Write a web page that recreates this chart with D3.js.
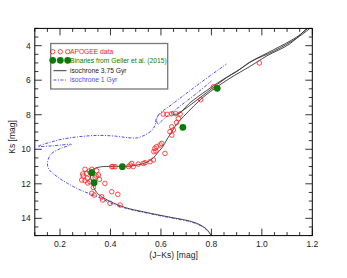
<!DOCTYPE html>
<html>
<head>
<meta charset="utf-8">
<script src="https://cdn.jsdelivr.net/npm/d3@7"></script>
<style>
body { margin: 0; background: #fff; }
text { font-family: "Liberation Sans", Arial, sans-serif; }
</style>
</head>
<body>
<div id="chart"></div>
<script>
// APOGEE stars (J-Ks, Ks)
var apogeeJK = [0.99, 0.808, 0.757, 0.609, 0.624, 0.643, 0.658, 0.676, 0.669, 0.662,
	0.643, 0.649, 0.636, 0.643, 0.603, 0.597, 0.583, 0.576, 0.58, 0.572, 0.616,
	0.57, 0.557, 0.537, 0.53, 0.51, 0.484, 0.478, 0.49, 0.472, 0.405, 0.418, 0.41,
	0.299, 0.306, 0.292, 0.286, 0.299, 0.308, 0.326, 0.345, 0.343, 0.352, 0.356,
	0.319, 0.332, 0.378, 0.326, 0.335, 0.365, 0.369, 0.405, 0.429, 0.398, 0.438,
	0.29, 0.316, 0.339, 0.31];
var apogeeKs = [5.0, 6.38, 7.13, 7.96, 7.98, 7.94, 7.94, 7.96, 8.23, 8.45,
	8.7, 8.88, 8.98, 9.18, 9.66, 9.75, 9.85, 9.95, 10.1, 10.14, 10.24,
	10.62, 10.72, 10.78, 10.82, 10.86, 10.82, 10.91, 11.0, 11.0, 11.01, 11.01, 11.0,
	11.16, 11.39, 11.55, 11.78, 11.82, 11.68, 11.16, 11.24, 11.55, 11.49, 11.74,
	11.88, 12.21, 11.98, 12.55, 12.65, 12.75, 12.94, 12.46, 12.61, 13.13, 13.23,
	11.43, 11.26, 11.66, 11.95];

// binaries from Geller et al. (2015)
var binJK = [0.326, 0.335, 0.447, 0.687, 0.823];
var binKs = [11.36, 11.94, 11.01, 8.73, 6.47];

// isochrone 3.75 Gyr
var iso375Rgb = [[0.80, 15.0], [0.78, 14.62], [0.755, 14.38], [0.72, 14.18],
	[0.65, 13.97], [0.596, 13.82], [0.53, 13.62], [0.464, 13.4],
	[0.43, 13.22], [0.398, 13.02], [0.365, 12.75], [0.345, 12.5], [0.333, 12.2],
	[0.325, 11.85], [0.32, 11.5], [0.323, 11.28], [0.335, 11.12], [0.36, 11.02],
	[0.41, 10.99], [0.47, 10.98], [0.51, 10.9], [0.545, 10.75], [0.57, 10.5],
	[0.587, 10.2], [0.605, 9.9], [0.625, 9.4], [0.643, 9.0], [0.662, 8.55],
	[0.69, 8.1], [0.73, 7.5], [0.77, 6.95], [0.821, 6.4], [0.874, 5.88],
	[0.953, 5.2], [1.019, 4.6], [1.11, 3.9], [1.178, 3.0]];
var iso375Agb1 = [[0.64, 7.95], [0.668, 7.95], [0.716, 7.3], [0.781, 6.6], [0.847, 5.95],
	[0.9, 5.5], [0.953, 4.95], [1.045, 4.25], [1.138, 3.5], [1.19, 2.9]];
var iso375Agb2 = [[0.668, 7.95], [0.72, 7.4], [0.79, 6.62], [0.86, 5.85], [0.92, 5.3],
	[0.96, 4.9], [1.05, 4.3], [1.14, 3.55], [1.195, 2.95]];

// isochrone 1 Gyr
var iso1Rgb = [[0.80, 15.02], [0.78, 14.65], [0.755, 14.41], [0.72, 14.21],
	[0.65, 14.0], [0.596, 13.85], [0.53, 13.65], [0.464, 13.43],
	[0.4, 13.12], [0.374, 12.92], [0.335, 12.67], [0.282, 12.37], [0.229, 11.97],
	[0.189, 11.59], [0.158, 11.2], [0.15, 10.85], [0.163, 10.3], [0.2, 9.97],
	[0.245, 9.72], [0.17, 9.8], [0.113, 9.83], [0.16, 9.6], [0.2, 9.44],
	[0.27, 9.28], [0.35, 9.2], [0.42, 9.24], [0.47, 9.33], [0.505, 9.34],
	[0.54, 9.15], [0.565, 8.88], [0.577, 8.6], [0.58, 8.3], [0.592, 7.98],
	[0.65, 7.33], [0.75, 6.22], [0.86, 5.06]];
var iso1Agb = [[0.592, 7.98], [0.583, 8.25], [0.588, 8.55], [0.6, 8.4], [0.63, 8.02],
	[0.68, 7.45], [0.74, 6.78], [0.8, 6.05]];

var xTicks = [0.2, 0.4, 0.6, 0.8, 1.0, 1.2];
var yTicks = [4, 6, 8, 10, 12, 14];

var w = 347, h = 278;
var x0 = 34.8, x1 = 312.3, y0 = 28.4, y1 = 235.6;

var xScale = d3.scaleLinear().domain([0.1, 1.2]).range([x0, x1]);
var yScale = d3.scaleLinear().domain([3, 15]).range([y0, y1]);

var svg = d3.select('#chart')
	.append('svg')
	.attr('width', w)
	.attr('height', h);

svg.append('defs').append('clipPath').attr('id', 'clip')
	.append('rect')
	.attr('x', x0).attr('y', y0)
	.attr('width', x1 - x0).attr('height', y1 - y0);

var plot = svg.append('g').attr('clip-path', 'url(#clip)');

var line = d3.line()
	.x(function (d) {return xScale(d[0]);})
	.y(function (d) {return yScale(d[1]);})
	.curve(d3.curveCatmullRom.alpha(0.5));

[iso1Rgb, iso1Agb].forEach(function (seg) {
	plot.append('path')
		.attr('d', line(seg))
		.attr('fill', 'none')
		.attr('stroke', '#4b4bff')
		.attr('stroke-width', 1)
		.attr('stroke-dasharray', '3,1.5,1,1.5');
});

[iso375Rgb, iso375Agb1, iso375Agb2].forEach(function (seg) {
	plot.append('path')
		.attr('d', line(seg))
		.attr('fill', 'none')
		.attr('stroke', '#333')
		.attr('stroke-width', 0.9);
});

plot.selectAll('circle.apogee')
	.data(apogeeJK)
	.enter()
	.append('circle')
	.attr('class', 'apogee')
	.attr('cx', function (d) {return xScale(d);})
	.attr('cy', function (d, i) {return yScale(apogeeKs[i]);})
	.attr('r', 2.3)
	.attr('fill', 'none')
	.attr('stroke', '#ff2020')
	.attr('stroke-width', 0.8);

plot.selectAll('circle.bin')
	.data(binJK)
	.enter()
	.append('circle')
	.attr('class', 'bin')
	.attr('cx', function (d) {return xScale(d);})
	.attr('cy', function (d, i) {return yScale(binKs[i]);})
	.attr('r', 3.4)
	.attr('fill', '#0a7a0a');

// frame and ticks on all sides
svg.append('rect')
	.attr('x', x0).attr('y', y0)
	.attr('width', x1 - x0).attr('height', y1 - y0)
	.attr('fill', 'none')
	.attr('stroke', '#000')
	.attr('stroke-width', 1);

var xMinor = d3.range(0.1, 1.2001, 0.05);
var yMinor = d3.range(3, 15.001, 0.5);
function isMajor(v, step) {
	return Math.abs(v / step - Math.round(v / step)) < 1e-6;
}

xMinor.forEach(function (v) {
	var len = isMajor(v, 0.2) ? 7 : 3.5;
	var px = xScale(v);
	svg.append('line').attr('x1', px).attr('x2', px)
		.attr('y1', y1).attr('y2', y1 - len)
		.attr('stroke', '#000').attr('stroke-width', 0.8);
	svg.append('line').attr('x1', px).attr('x2', px)
		.attr('y1', y0).attr('y2', y0 + len)
		.attr('stroke', '#000').attr('stroke-width', 0.8);
});
yMinor.forEach(function (v) {
	var len = isMajor(v, 2) ? 7 : 3.5;
	var py = yScale(v);
	svg.append('line').attr('y1', py).attr('y2', py)
		.attr('x1', x0).attr('x2', x0 + len)
		.attr('stroke', '#000').attr('stroke-width', 0.8);
	svg.append('line').attr('y1', py).attr('y2', py)
		.attr('x1', x1).attr('x2', x1 - len)
		.attr('stroke', '#000').attr('stroke-width', 0.8);
});

svg.selectAll('text.xt')
	.data(xTicks)
	.enter()
	.append('text')
	.attr('class', 'xt')
	.attr('x', function (d) {return xScale(d);})
	.attr('y', y1 + 11)
	.attr('text-anchor', 'middle')
	.attr('font-size', '8.5px')
	.attr('fill', '#222')
	.text(function (d) {return d3.format('.1f')(d);});

svg.selectAll('text.yt')
	.data(yTicks)
	.enter()
	.append('text')
	.attr('class', 'yt')
	.attr('x', x0 - 4)
	.attr('y', function (d) {return yScale(d) + 3;})
	.attr('text-anchor', 'end')
	.attr('font-size', '8.5px')
	.attr('fill', '#222')
	.text(function (d) {return d;});

svg.append('text')
	.attr('x', (x0 + x1) / 2)
	.attr('y', 258)
	.attr('text-anchor', 'middle')
	.attr('font-size', '8.5px')
	.attr('fill', '#222')
	.text('(J\u2212Ks) [mag]');

svg.append('text')
	.attr('transform', 'translate(15,' + ((y0 + y1) / 2 + 5) + ') rotate(-90)')
	.attr('text-anchor', 'middle')
	.attr('font-size', '8.5px')
	.attr('fill', '#222')
	.text('Ks [mag]');

// legend
var leg = svg.append('g');
leg.append('rect')
	.attr('x', 50.7).attr('y', 43.5)
	.attr('width', 117).attr('height', 45.5)
	.attr('fill', '#fff')
	.attr('stroke', '#777')
	.attr('stroke-width', 1.3);

var legItems = ['APOGEE data', 'Binaries from Geller et al. (2015)', 'isochrone 3.75 Gyr', 'isochrone 1 Gyr'];
var legColors = ['#ff2020', '#0a7a0a', '#222', '#4b4bff'];
var legY = [51.7, 60.3, 70.7, 80];

leg.selectAll('text')
	.data(legItems)
	.enter()
	.append('text')
	.attr('x', 70)
	.attr('y', function (d, i) {return legY[i] + 2.4;})
	.attr('font-size', '6.7px')
	.attr('fill', function (d, i) {return legColors[i];})
	.text(function (d) {return d;});

[52.7, 60.3, 67.7].forEach(function (cx) {
	leg.append('circle').attr('cx', cx).attr('cy', legY[0]).attr('r', 2.2)
		.attr('fill', 'none').attr('stroke', '#ff2020').attr('stroke-width', 0.8);
	leg.append('circle').attr('cx', cx).attr('cy', legY[1]).attr('r', 3.4)
		.attr('fill', '#0a7a0a');
});
leg.append('line').attr('x1', 53.5).attr('x2', 66.5)
	.attr('y1', legY[2]).attr('y2', legY[2])
	.attr('stroke', '#222').attr('stroke-width', 0.9);
leg.append('line').attr('x1', 53.5).attr('x2', 66.5)
	.attr('y1', legY[3]).attr('y2', legY[3])
	.attr('stroke', '#4b4bff').attr('stroke-width', 1)
	.attr('stroke-dasharray', '3,1.5,1,1.5');
</script>
</body>
</html>
